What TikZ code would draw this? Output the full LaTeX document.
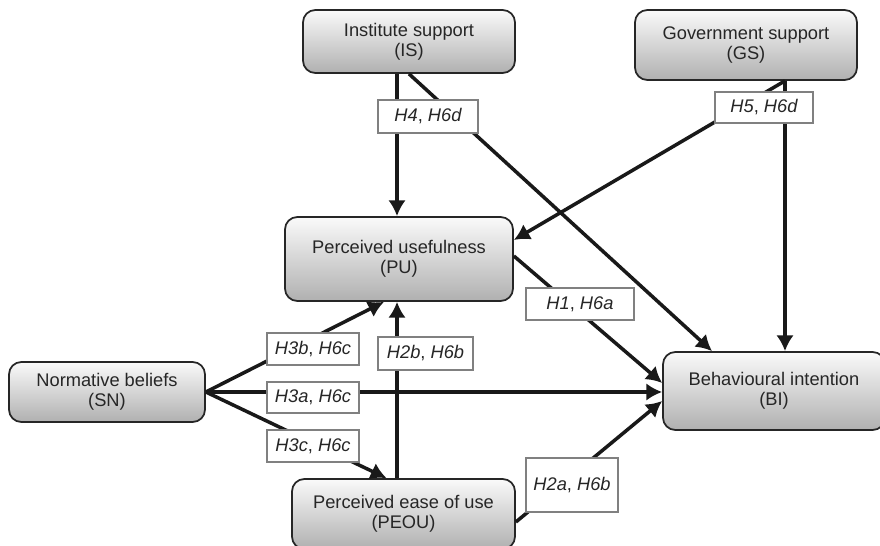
\documentclass[tikz,border=0pt]{standalone}
\usepackage{fontspec}
\setmainfont{Liberation Sans}
\usetikzlibrary{arrows.meta,calc}
\begin{document}
\begin{tikzpicture}[x=0.02cm,y=-0.02cm,
  cbox/.style={draw=black!85,line width=1pt,rounded corners=7pt,top color=gray!4,bottom color=gray!62,
    align=center,font=\fontsize{10.4}{11.5}\selectfont,text=black!85,inner sep=0pt},
  hlab/.style={draw=black!50,line width=0.6pt,fill=white,font=\fontsize{10.4}{12}\selectfont\itshape,text=black!85,inner sep=0pt},
  arr/.style={line width=2pt,draw=black!90,-{Latex[length=9pt,width=10pt]}}]
\useasboundingbox (0,0) rectangle (880,546);
\node[cbox,minimum width=4.24cm,minimum height=1.26cm] (IS) at (409,41.5) {Institute support\\(IS)};
\node[cbox,minimum width=4.44cm,minimum height=1.4cm] (GS) at (746,45) {Government support\\(GS)};
\node[cbox,minimum width=4.56cm,minimum height=1.68cm] (PU) at (399,259) {Perceived usefulness\\(PU)};
\node[cbox,minimum width=3.92cm,minimum height=1.2cm] (SN) at (107,392) {Normative beliefs\\(SN)};
\node[cbox,minimum width=4.46cm,minimum height=1.4cm] (PEOU) at (403.5,514) {Perceived ease of use\\(PEOU)};
\node[cbox,minimum width=4.44cm,minimum height=1.56cm] (BI) at (774,391) {Behavioural intention\\(BI)};
% connectors
\coordinate (gs0) at ($(GS.south)+(39,0)$);
\coordinate (pun) at ($(PU.north)+(-2,0)$);
\coordinate (pus) at ($(PU.south)+(-2,0)$);
\draw[arr] (pun |- IS.south) -- (pun);
\draw[arr] (IS.south) -- ($(BI.north)+(-62,0)$);
\draw[arr] (gs0) -- (gs0 |- BI.north);
\draw[arr] (gs0) -- ($(PU.east)+(0,-19)$);
\draw[arr] ($(PU.east)+(0,-3)$) -- ($(BI.west)+(0,-8)$);
\draw[arr] (SN.east) -- (SN.east -| BI.west);
\draw[arr] (SN.east) -- ($(PU.south)+(-15,0)$);
\draw[arr] (SN.east) -- ($(PEOU.north)+(-17,0)$);
\draw[arr] (pus |- PEOU.north) -- (pus);
\draw[arr] ($(PEOU.east)+(0,8)$) -- ($(BI.west)+(0,10)$);
% labels
\node[hlab,minimum width=2cm,minimum height=0.66cm] (l4) at (428,116.5) {H4\upshape, \itshape H6d};
\node[hlab,minimum width=1.96cm,minimum height=0.62cm] (l5) at (764,107.5) {H5\upshape, \itshape H6d};
\node[hlab,minimum width=2.16cm,minimum height=0.64cm] (l1) at (580,304) {H1\upshape, \itshape H6a};
\node[hlab,minimum width=1.84cm,minimum height=0.64cm] (l3b) at (313,349) {H3b\upshape, \itshape H6c};
\node[hlab,minimum width=1.9cm,minimum height=0.66cm] (l2b) at (425.5,353.5) {H2b\upshape, \itshape H6b};
\node[hlab,minimum width=1.84cm,minimum height=0.62cm] (l3a) at (313,397.5) {H3a\upshape, \itshape H6c};
\node[hlab,minimum width=1.84cm,minimum height=0.64cm] (l3c) at (313,446) {H3c\upshape, \itshape H6c};
\node[hlab,minimum width=1.84cm,minimum height=1.08cm] (l2a) at (572,485) {H2a\upshape, \itshape H6b};
\end{tikzpicture}
\end{document}
